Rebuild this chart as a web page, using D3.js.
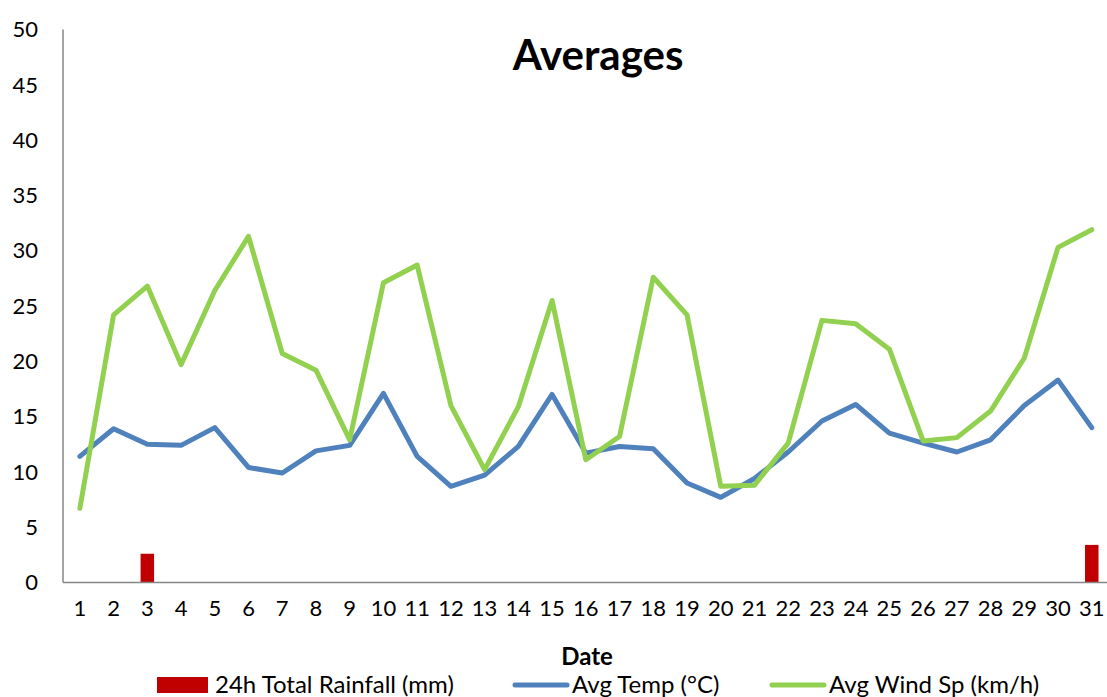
<!DOCTYPE html>
<html>
<head>
<meta charset="utf-8">
<script src="https://cdn.jsdelivr.net/npm/d3@7"></script>
<style>
	body { margin: 0; background: #fff; }
	text { font-family: Lato, "Open Sans", sans-serif; fill: #000; }
</style>
</head>
<body>
<div id="chart"></div>
<script>
/**
 * Averages chart: daily rainfall bars with temperature and wind lines
 */

var dates = d3.range(1, 32).map(String);

var rainfall = [0, 0, 2.6, 0, 0, 0, 0, 0, 0, 0,
	0, 0, 0, 0, 0, 0, 0, 0, 0, 0,
	0, 0, 0, 0, 0, 0, 0, 0, 0, 0, 3.4];

var avgTemp = [11.4, 13.9, 12.5, 12.4, 14.0, 10.4, 9.9, 11.9, 12.4, 17.1,
	11.4, 8.7, 9.7, 12.3, 17.0, 11.7, 12.3, 12.1, 9.0, 7.7,
	9.4, 11.8, 14.6, 16.1, 13.5, 12.6, 11.8, 12.9, 16.0, 18.3, 14.0];

var avgWind = [6.7, 24.2, 26.8, 19.7, 26.4, 31.3, 20.7, 19.2, 12.9, 27.1,
	28.7, 16.0, 10.2, 15.9, 25.5, 11.1, 13.2, 27.6, 24.2, 8.7,
	8.8, 12.6, 23.7, 23.4, 21.1, 12.8, 13.1, 15.5, 20.3, 30.3, 31.9];

var yTicks = [0, 5, 10, 15, 20, 25, 30, 35, 40, 45, 50];

var legendItems = [
	{ name: "24h Total Rainfall (mm)", color: "#C00000", type: "bar", x: 157 },
	{ name: "Avg Temp (°C)", color: "#4F81BD", type: "line", x: 513 },
	{ name: "Avg Wind Sp (km/h)", color: "#92D050", type: "line", x: 770 }
];

var width = 1107, height = 697;
var margin = { left: 63, top: 29.5, bottom: 114.5 };
var plotW = 31 * 33.73;

var svg = d3.select("#chart").append("svg")
	.attr("width", width)
	.attr("height", height);

// Scales
var x = d3.scaleBand()
	.domain(dates)
	.range([margin.left, margin.left + plotW]);

var y = d3.scaleLinear()
	.domain([0, 50])
	.range([height - margin.bottom, margin.top]);

var cx = function(d, i) { return x(dates[i]) + x.bandwidth() / 2; };

// Title
svg.append("text")
	.text("Averages")
	.attr("x", 598)
	.attr("y", 70)
	.attr("text-anchor", "middle")
	.style("font-size", "42px")
	.style("font-weight", "bold");

// Y axis labels
svg.selectAll(".ytick")
	.data(yTicks)
	.enter().append("text")
	.attr("class", "ytick")
	.attr("x", 38)
	.attr("y", function(d) { return y(d); })
	.attr("dy", "0.35em")
	.attr("text-anchor", "end")
	.style("font-size", "22px")
	.text(function(d) { return d; });

// X axis labels
svg.selectAll(".xtick")
	.data(dates)
	.enter().append("text")
	.attr("class", "xtick")
	.attr("x", function(d) { return x(d) + x.bandwidth() / 2; })
	.attr("y", 616)
	.attr("text-anchor", "middle")
	.style("font-size", "22px")
	.text(function(d) { return d; });

// Axis title
svg.append("text")
	.text("Date")
	.attr("x", 587)
	.attr("y", 665)
	.attr("text-anchor", "middle")
	.style("font-size", "24px")
	.style("font-weight", "bold");

// Rainfall bars
var barW = x.bandwidth() * 0.4;
svg.selectAll(".bar")
	.data(rainfall)
	.enter().append("rect")
	.attr("class", "bar")
	.attr("x", function(d, i) { return cx(d, i) - barW / 2; })
	.attr("y", function(d) { return y(d); })
	.attr("width", barW)
	.attr("height", function(d) { return y(0) - y(d); })
	.attr("fill", "#C00000");

// Axis lines
svg.append("line")
	.attr("x1", margin.left).attr("x2", margin.left)
	.attr("y1", y(50)).attr("y2", y(0))
	.attr("stroke", "#868686")
	.attr("stroke-width", 1.5);

svg.append("line")
	.attr("x1", margin.left).attr("x2", margin.left + plotW)
	.attr("y1", y(0)).attr("y2", y(0))
	.attr("stroke", "#868686")
	.attr("stroke-width", 1.5);

// Lines
var line = d3.line()
	.x(cx)
	.y(function(d) { return y(d); });

svg.append("path")
	.datum(avgTemp)
	.attr("d", line)
	.attr("fill", "none")
	.attr("stroke", "#4F81BD")
	.attr("stroke-width", 5)
	.attr("stroke-linejoin", "round")
	.attr("stroke-linecap", "round");

svg.append("path")
	.datum(avgWind)
	.attr("d", line)
	.attr("fill", "none")
	.attr("stroke", "#92D050")
	.attr("stroke-width", 5)
	.attr("stroke-linejoin", "round")
	.attr("stroke-linecap", "round");

// Legend
var legend = svg.selectAll(".legend")
	.data(legendItems)
	.enter().append("g")
	.attr("class", "legend")
	.attr("transform", function(d) { return "translate(" + d.x + ",684)"; });

legend.filter(function(d) { return d.type == "bar"; })
	.append("rect")
	.attr("x", 0).attr("y", -7)
	.attr("width", 51).attr("height", 16)
	.attr("fill", function(d) { return d.color; });

legend.filter(function(d) { return d.type == "line"; })
	.append("line")
	.attr("x1", 2).attr("x2", 54)
	.attr("y1", 1).attr("y2", 1)
	.attr("stroke", function(d) { return d.color; })
	.attr("stroke-width", 5)
	.attr("stroke-linecap", "round");

legend.append("text")
	.attr("x", function(d) { return d.type == "bar" ? 58 : 59; })
	.attr("y", 9)
	.style("font-size", "24px")
	.text(function(d) { return d.name; });
</script>
</body>
</html>
